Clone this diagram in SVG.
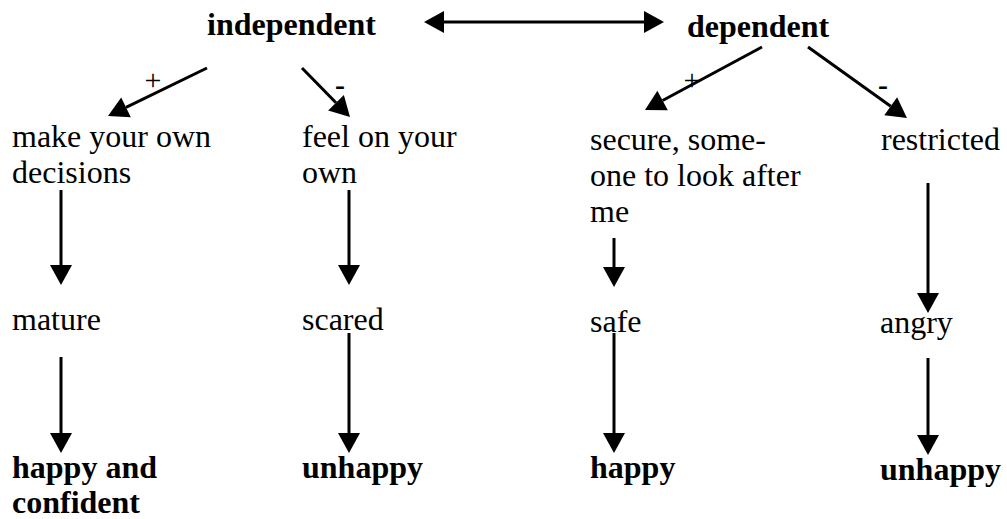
<svg xmlns="http://www.w3.org/2000/svg" width="1007" height="519" viewBox="0 0 1007 519">
  <style>
    text { font-family: "Times New Roman", "Liberation Serif", "DejaVu Serif", serif; font-style: normal; fill: #000; }
    .t { font-size: 32px; font-weight: normal; }
    .b { font-weight: bold; }
    .sign { font-size: 30px; text-anchor: middle; }
    .edge { stroke: #000; stroke-width: 3; fill: none; }
  </style>
  <defs>
    <marker id="head" markerUnits="userSpaceOnUse" markerWidth="22" markerHeight="24" refX="0" refY="11" orient="auto-start-reverse" overflow="visible">
      <path d="M0,0 L20,11 L0,22 Z" fill="#000"/>
    </marker>
  </defs>
  <rect width="1007" height="519" fill="#fff"/>

  <g id="connectors">
    <!-- two-way link between the top concepts -->
    <line class="edge" x1="444" y1="22" x2="644" y2="22" marker-start="url(#head)" marker-end="url(#head)"/>
    <!-- branches from independent -->
    <line class="edge" x1="207" y1="68" x2="126" y2="107.3" marker-end="url(#head)"/>
    <line class="edge" x1="302" y1="68" x2="336" y2="102.7" marker-end="url(#head)"/>
    <!-- branches from dependent -->
    <line class="edge" x1="762" y1="47" x2="662.6" y2="100.5" marker-end="url(#head)"/>
    <line class="edge" x1="808" y1="47" x2="890.7" y2="106.3" marker-end="url(#head)"/>
    <!-- column chains -->
    <line class="edge" x1="61" y1="190" x2="61" y2="265" marker-end="url(#head)"/>
    <line class="edge" x1="61" y1="357" x2="61" y2="433" marker-end="url(#head)"/>
    <line class="edge" x1="349" y1="190" x2="349" y2="265" marker-end="url(#head)"/>
    <line class="edge" x1="349" y1="333" x2="349" y2="433" marker-end="url(#head)"/>
    <line class="edge" x1="614" y1="238" x2="614" y2="267" marker-end="url(#head)"/>
    <line class="edge" x1="614" y1="333" x2="614" y2="433" marker-end="url(#head)"/>
    <line class="edge" x1="928" y1="183" x2="928" y2="293" marker-end="url(#head)"/>
    <line class="edge" x1="928" y1="358" x2="928" y2="435" marker-end="url(#head)"/>
    <!-- signs on the branches -->
    <text class="sign" x="153" y="90">+</text>
    <text class="sign b" x="340" y="95">-</text>
    <text class="sign" x="692" y="90">+</text>
    <text class="sign b" x="883" y="95">-</text>
  </g>

  <g id="independent"><text class="t b" x="207" y="35">independent</text></g>
  <g id="dependent"><text class="t b" x="687" y="37">dependent</text></g>

  <g id="own-decisions">
    <text class="t" x="12" y="147">make your own</text>
    <text class="t" x="12" y="183">decisions</text>
  </g>
  <g id="on-your-own">
    <text class="t" x="302" y="147">feel on your</text>
    <text class="t" x="302" y="183">own</text>
  </g>
  <g id="secure">
    <text class="t" x="590" y="150">secure, some-</text>
    <text class="t" x="590" y="186">one to look after</text>
    <text class="t" x="590" y="222">me</text>
  </g>
  <g id="restricted"><text class="t" x="881" y="150">restricted</text></g>

  <g id="mature"><text class="t" x="12" y="330">mature</text></g>
  <g id="scared"><text class="t" x="302" y="330">scared</text></g>
  <g id="safe"><text class="t" x="590" y="332">safe</text></g>
  <g id="angry"><text class="t" x="880" y="333">angry</text></g>

  <g id="happy-confident">
    <text class="t b" x="12" y="478">happy and</text>
    <text class="t b" x="12" y="513">confident</text>
  </g>
  <g id="unhappy-left"><text class="t b" x="302" y="478">unhappy</text></g>
  <g id="happy"><text class="t b" x="590" y="478">happy</text></g>
  <g id="unhappy-right"><text class="t b" x="880" y="480">unhappy</text></g>
</svg>
